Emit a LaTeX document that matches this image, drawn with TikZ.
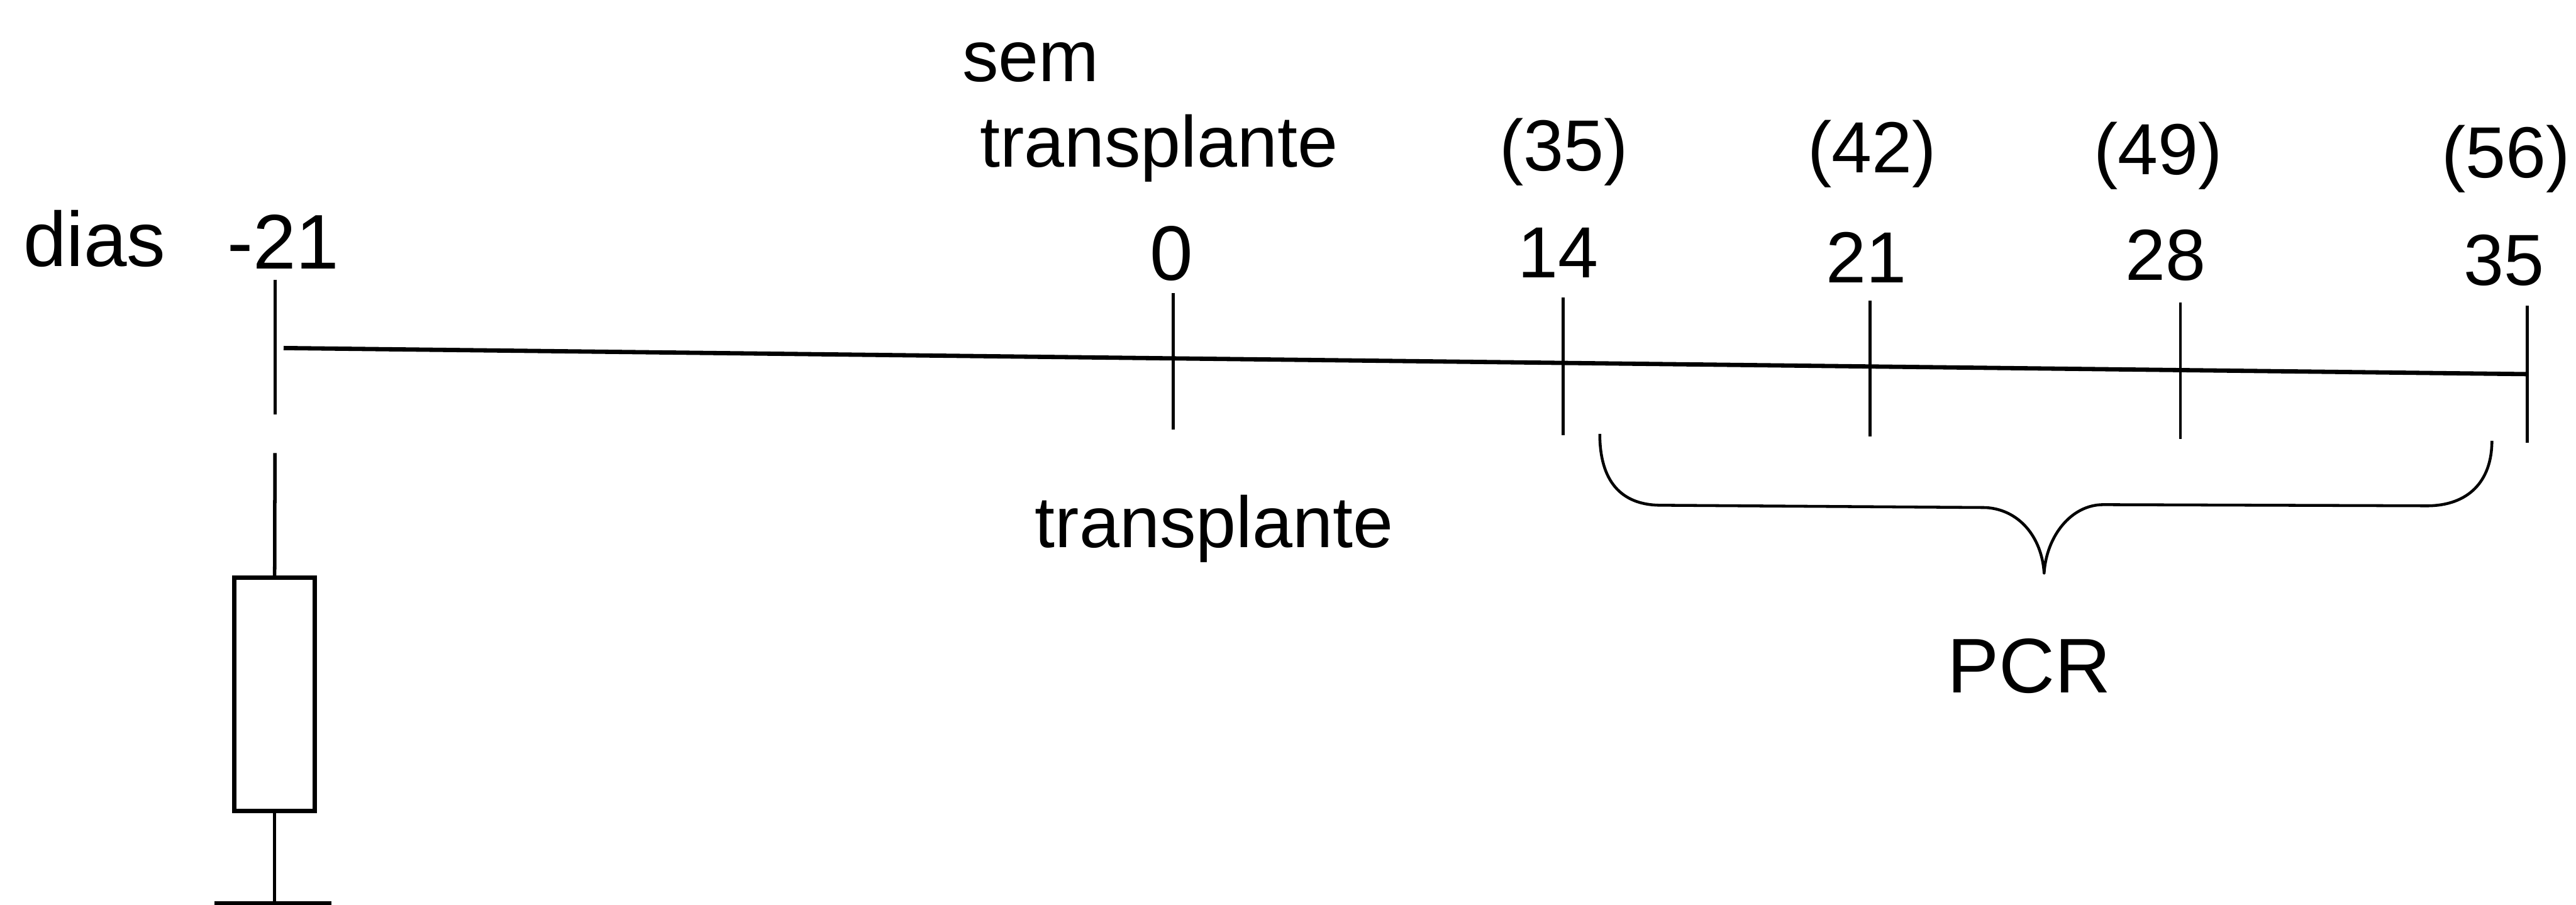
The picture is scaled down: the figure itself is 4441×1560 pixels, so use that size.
\documentclass[tikz,border=0pt]{standalone}
\usepackage{fontspec}
\setmainfont{Liberation Sans}
\begin{document}
\begin{tikzpicture}[x=0.1mm,y=-0.1mm,
  lbl/.style={inner sep=0pt, anchor=base, font=\fontsize{35.5}{40}\selectfont},
  biglbl/.style={lbl, font=\fontsize{38}{44}\selectfont},
  axisline/.style={line width=2.1pt},
  tickline/.style={line width=1.5pt},
  boxline/.style={line width=2.1pt},
  bracepath/.style={line width=1.4pt, line join=round}]
\useasboundingbox (0,0) rectangle (4441,1560);

% labels
\node[biglbl] (dias) at (163,459) {dias};
\node[biglbl] (lm21) at (488,464) {-21};
\node[lbl] (sem) at (1777,140) {sem};
\node[lbl] (semtr) at (1998,288) {transplante};
\node[biglbl] (l0) at (2020,483) {0};
\node[lbl] (p35) at (2696,294) {(35)};
\node[lbl] (p42) at (3227,298) {(42)};
\node[lbl] (p49) at (3721,301) {(49)};
\node[lbl] (p56) at (4320,306) {(56)};
\node[lbl] (l14) at (2686,479) {14};
\node[lbl] (l21) at (3217,487) {21};
\node[lbl] (l28) at (3734,483) {28};
\node[lbl] (l35) at (4317,492) {35};
\node[lbl] (tr) at (2093,944) {transplante};
\node[biglbl] (pcr) at (3498,1194) {PCR};

% axis
\coordinate (axS) at (489,600);
\coordinate (axE) at (4357,645);
\draw[axisline] (axS) -- (axE);

% ticks
\coordinate (tA1) at (474,482);  \coordinate (tA2) at (474,714);
\coordinate (tB1) at (2023,505); \coordinate (tB2) at (2023,740);
\coordinate (tC1) at (2695,513); \coordinate (tC2) at (2695,750);
\coordinate (tD1) at (3224,518); \coordinate (tD2) at (3224,752);
\coordinate (tE1) at (3759,521); \coordinate (tE2) at (3759,757);
\coordinate (tF1) at (4357,527); \coordinate (tF2) at (4357,763);
\draw[tickline] (tA1) -- (tA2);
\draw[tickline] (tB1) -- (tB2);
\draw[tickline] (tC1) -- (tC2);
\draw[tickline] (tD1) -- (tD2);
\draw[tickline] (tE1) -- (tE2);
\draw[tickline] (tF1) -- (tF2);

% lower part under -21
\coordinate (lowTop) at (474,781);
\node[draw, boxline, inner sep=0pt, minimum width=13.9mm, minimum height=40.2mm] (box) at (473.5,1197) {};
\coordinate (lowEnd) at (473.5,1560);
\coordinate (botL) at (370,1557);
\coordinate (botR) at (571,1557);
\draw[tickline, line width=1.7pt] (lowTop) -- (box.north);
\draw[tickline, line width=1.7pt] (box.south) -- (lowEnd);
\draw[boxline] (botL) -- (botR);

% brace
\coordinate (brL) at (2758,748);
\coordinate (brTip) at (3524,988);
\coordinate (brR) at (4296,760);
\draw[bracepath] (brL)
  .. controls (2758,830) and (2795,870) .. (2861,871)
  -- (3423,875)
  .. controls (3480,878) and (3520,925) .. (brTip)
  .. controls (3528,925) and (3570,870) .. (3626,870)
  -- (4184,872)
  .. controls (4255,872) and (4296,830) .. (brR);
\end{tikzpicture}
\end{document}
